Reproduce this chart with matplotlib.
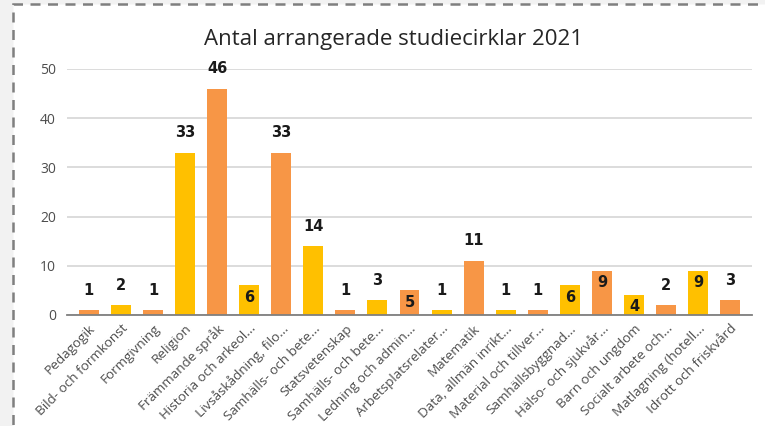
import matplotlib.pyplot as plt
from matplotlib.patches import Rectangle

# data
kategorier = ['Pedagogik', 'Bild- och formkonst', 'Formgivning', 'Religion',
              'Främmande språk', 'Historia och arkeol...', 'Livsåskådning, filo...',
              'Samhälls- och bete...', 'Statsvetenskap', 'Samhälls- och bete...',
              'Ledning och admin...', 'Arbetsplatsrelater...', 'Matematik',
              'Data, allmän inrikt...', 'Material och tillver...', 'Samhällsbyggnad...',
              'Hälso- och sjukvår...', 'Barn och ungdom', 'Socialt arbete och...',
              'Matlagning (hotell...', 'Idrott och friskvård']
antal = [1, 2, 1, 33, 46, 6, 33, 14, 1, 3, 5, 1, 11, 1, 1, 6, 9, 4, 2, 9, 3]
farger = ['#F79646', '#FFC000']

fig = plt.figure(figsize=(7.65, 4.26), dpi=100)
fig.patch.set_facecolor('#F2F2F2')

# white chart area with dashed border
x0, y0 = 13 / 765, 1 - 4 / 426
fig.patches.append(Rectangle((x0, -0.05), 1.1, y0 + 0.05, transform=fig.transFigure,
                             facecolor='white', edgecolor='#7F7F7F', linestyle=(0, (4, 3)),
                             linewidth=1.8, zorder=-5))

ax = fig.add_axes([67 / 765, 1 - 315 / 426, (752 - 67) / 765, (315 - 69) / 426])
ax.set_facecolor('none')
ax.set_zorder(2)

x = range(len(kategorier))
cols = [farger[i % 2] for i in x]
bars = ax.bar(x, antal, width=0.62, color=cols, zorder=3)

ax.set_ylim(0, 50)
ax.set_xlim(-0.68, len(kategorier) - 0.32)
ax.set_yticks([0, 10, 20, 30, 40, 50])
ax.grid(axis='y', color='#D9D9D9', linewidth=1.3, zorder=0)
for s in ['top', 'right', 'left']:
    ax.spines[s].set_visible(False)
ax.spines['bottom'].set_color('#7F7F7F')
ax.spines['bottom'].set_linewidth(1.3)
ax.spines['bottom'].set_zorder(4)
ax.tick_params(axis='both', length=0, labelcolor='#4D4D4D')
ax.tick_params(axis='y', labelsize=10, pad=8)
ax.tick_params(axis='x', pad=5)
ax.set_xticks(list(x))
ax.set_xticklabels(kategorier, rotation=45, ha='right', rotation_mode='anchor',
                   fontsize=9.7, family='Open Sans')
for lbl in ax.get_yticklabels():
    lbl.set_family('Open Sans')

for b, v in zip(bars, antal):
    cx = b.get_x() + b.get_width() / 2
    if 4 <= v <= 9:
        ax.annotate(str(v), (cx, v), xytext=(0, -3), textcoords='offset points',
                    ha='center', va='top', fontsize=10.5, fontweight='bold',
                    color='#1A1A1A', zorder=5)
    else:
        ax.annotate(str(v), (cx, v), xytext=(0, 9), textcoords='offset points',
                    ha='center', va='bottom', fontsize=10.5, fontweight='bold',
                    color='#1A1A1A', zorder=5, annotation_clip=False)

fig.text(0.514, 0.908, 'Antal arrangerade studiecirklar 2021', ha='center', va='center',
         fontsize=16, color='#262626', family='Open Sans')

fig.savefig('out.png', dpi=100, facecolor=fig.get_facecolor())
